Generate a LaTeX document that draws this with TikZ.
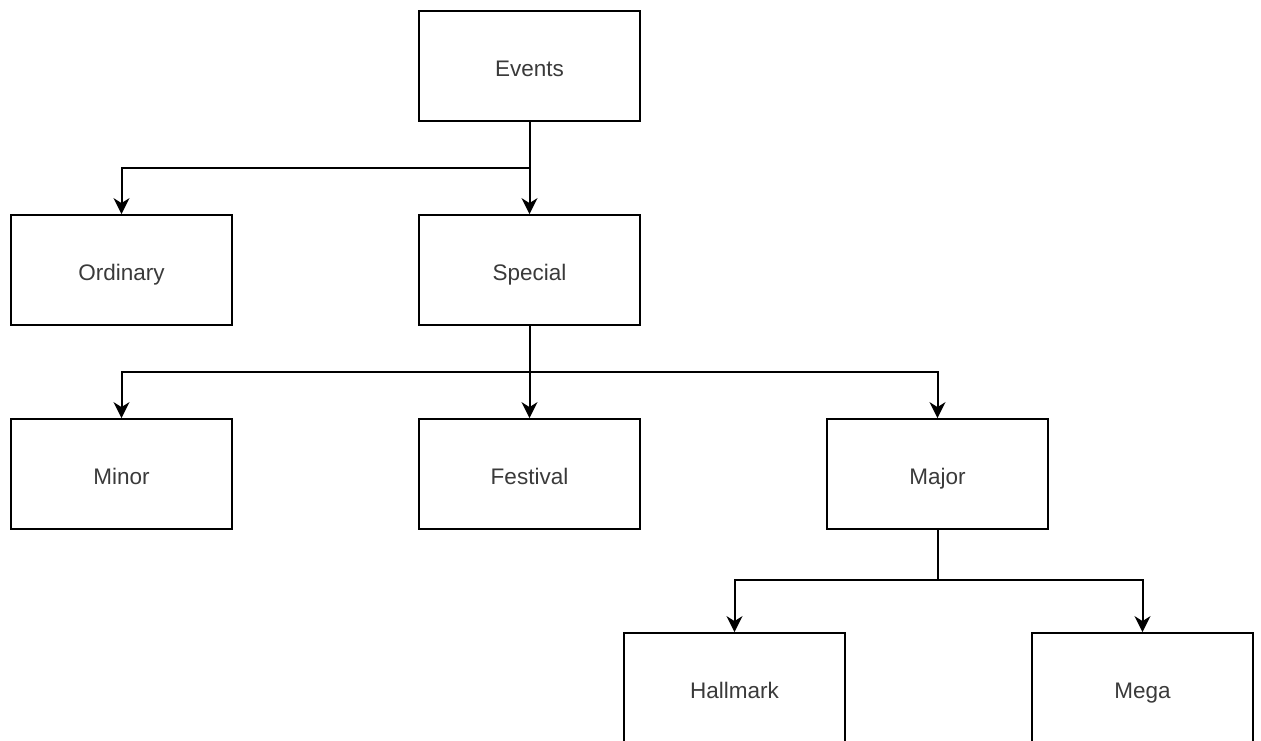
\documentclass[tikz,border=0pt]{standalone}
\usepackage{fontspec}
\setmainfont{Liberation Sans}
\usetikzlibrary{arrows.meta}
\definecolor{labelgrey}{HTML}{3A3A3A}
\begin{document}
\begin{tikzpicture}[x=1pt,y=-1pt,
  box/.style={draw=black, line width=1.8pt, fill=white, minimum width=221pt, minimum height=110pt,
    inner sep=0pt, text height=21pt, text depth=1pt, text=labelgrey, font=\fontsize{22.5}{26}\selectfont},
  link/.style={line width=2pt, -{Stealth[length=16pt,width=16pt,inset=5pt]}}]
  \useasboundingbox (0,0) rectangle (1261,740);
  \clip (0,0) rectangle (1261,740);
  % tree of event types
  \node[box] (events)   at (529.5,66)  {Events};
  \node[box] (ordinary) at (121.5,270) {Ordinary};
  \node[box] (special)  at (529.5,270) {Special};
  \node[box] (minor)    at (121.5,474) {Minor};
  \node[box] (festival) at (529.5,474) {Festival};
  \node[box] (major)    at (937.5,474) {Major};
  \node[box] (hallmark) at (734.5,688) {Hallmark};
  \node[box] (mega)     at (1142.5,688) {Mega};
  % branch points of the connectors
  \coordinate (j1) at (529.5,168);
  \coordinate (j2) at (529.5,372);
  \coordinate (j3) at (937.5,580);
  % connectors
  \draw[link] (events.south) -- (special.north);
  \draw[link] (events.south) |- (j1) -| (ordinary.north);
  \draw[link] (special.south) -- (festival.north);
  \draw[link] (special.south) |- (j2) -| (minor.north);
  \draw[link] (special.south) |- (j2) -| (major.north);
  \draw[link] (major.south) |- (j3) -| (hallmark.north);
  \draw[link] (major.south) |- (j3) -| (mega.north);
\end{tikzpicture}
\end{document}
